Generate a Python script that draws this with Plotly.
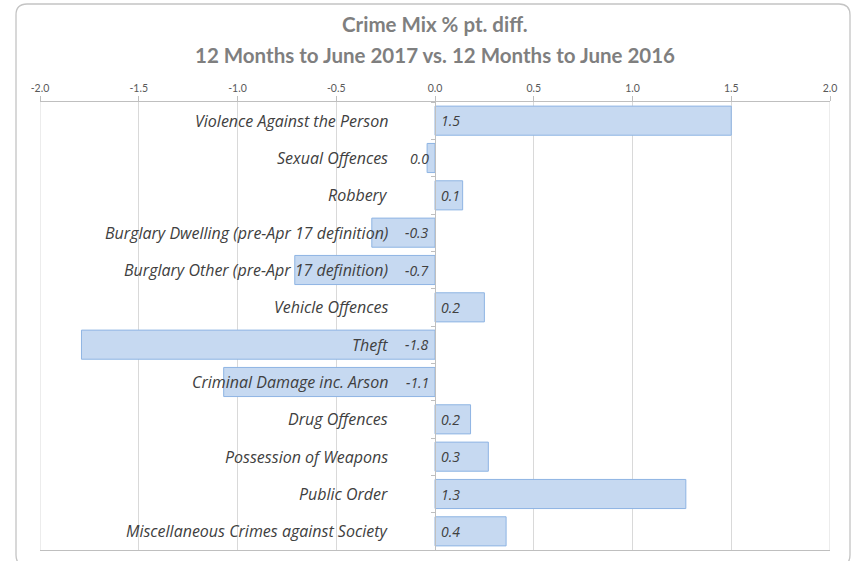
import plotly.graph_objects as go

categories = [
    "Violence Against the Person",
    "Sexual Offences",
    "Robbery",
    "Burglary Dwelling (pre-Apr 17 definition)",
    "Burglary Other (pre-Apr 17 definition)",
    "Vehicle Offences",
    "Theft",
    "Criminal Damage inc. Arson",
    "Drug Offences",
    "Possession of Weapons",
    "Public Order",
    "Miscellaneous Crimes against Society",
]
values = [1.50, -0.04, 0.14, -0.32, -0.71, 0.25, -1.79, -1.07, 0.18, 0.27, 1.27, 0.36]
x_ticks = [-2.0, -1.5, -1.0, -0.5, 0.0, 0.5, 1.0, 1.5, 2.0]
title_lines = ["Crime Mix % pt. diff.", "12 Months to June 2017 vs. 12 Months to June 2016"]

FONT = "Lato"
LABEL_FONT = "Open Sans"
TXT = "#404040"

W, H = 852, 561
L, R, T, B = 40, 22, 102, 11
pw, ph = W - L - R, H - T - B


def px_x(p):
    return (p - L) / pw


def px_y(p):
    return (H - B - p) / ph


fig = go.Figure()
fig.add_trace(go.Bar(
    y=categories, x=values, orientation="h",
    marker=dict(color="#C6D9F1", line=dict(color="#8EB4E3", width=1)),
    hoverinfo="x+y",
))

annotations = []
for c, v in zip(categories, values):
    label = f"{v:.1f}"
    if label == "-0.0":
        label = "0.0"
    annotations.append(dict(
        x=0, y=c, xref="x", yref="y",
        text=f"<i>{label}</i>",
        showarrow=False,
        xanchor="left" if v >= 0 else "right",
        xshift=4 if v >= 0 else -4,
        font=dict(family=LABEL_FONT, size=14, color=TXT),
    ))
    annotations.append(dict(
        x=0, y=c, xref="x", yref="y",
        text=f"<i>{c}</i>",
        showarrow=False, xanchor="right", xshift=-45,
        font=dict(family=LABEL_FONT, size=16, color=TXT),
    ))

for t, ypx in zip(title_lines, [24, 55]):
    annotations.append(dict(
        x=0.5, y=px_y(ypx), xref="paper", yref="paper", yanchor="middle",
        text=f"<b>{t}</b>", showarrow=False,
        font=dict(family=FONT, size=20.5, color="#7F7F7F"),
    ))

# rounded outer border
x0, x1, y0, y1, r = 16, 850, 4, 566, 11
path = (
    f"M {px_x(x0 + r)},{px_y(y0)} L {px_x(x1 - r)},{px_y(y0)} "
    f"Q {px_x(x1)},{px_y(y0)} {px_x(x1)},{px_y(y0 + r)} "
    f"L {px_x(x1)},{px_y(y1 - r)} Q {px_x(x1)},{px_y(y1)} {px_x(x1 - r)},{px_y(y1)} "
    f"L {px_x(x0 + r)},{px_y(y1)} Q {px_x(x0)},{px_y(y1)} {px_x(x0)},{px_y(y1 - r)} "
    f"L {px_x(x0)},{px_y(y0 + r)} Q {px_x(x0)},{px_y(y0)} {px_x(x0 + r)},{px_y(y0)} Z"
)

shapes = [dict(type="path", path=path, xref="paper", yref="paper",
               line=dict(color="#C4C4C4", width=1.3), layer="below")]
# plot-area side borders at the axis range ends
for xv in (x_ticks[0], x_ticks[-1]):
    shapes.append(dict(type="line", xref="x", yref="paper", x0=xv, x1=xv, y0=0, y1=1,
                       line=dict(color="#D9D9D9", width=1), layer="below"))

fig.update_layout(
    width=W, height=H,
    margin=dict(l=L, r=R, t=T, b=B),
    paper_bgcolor="white", plot_bgcolor="white",
    showlegend=False, bargap=0.22,
    annotations=annotations,
    shapes=shapes,
    xaxis=dict(
        side="top", range=[-2.0, 2.0], tickvals=x_ticks,
        ticktext=[f"{t:.1f}" for t in x_ticks],
        showgrid=True, gridcolor="#D9D9D9", gridwidth=1,
        zeroline=False,
        showline=True, linecolor="#BFBFBF", linewidth=1, mirror=True,
        ticks="outside", ticklen=5, tickcolor="#BFBFBF",
        tickfont=dict(family=FONT, size=10.5, color="#595959"),
        fixedrange=True,
    ),
    yaxis=dict(
        autorange="reversed", type="category",
        anchor="free", position=0.5,
        showticklabels=False, showgrid=False, zeroline=False,
        showline=True, linecolor="#BFBFBF", linewidth=1,
        ticks="outside", tickson="boundaries", ticklen=4, tickcolor="#BFBFBF",
        fixedrange=True,
    ),
)

fig.write_html(
    "out.html",
    config={"displayModeBar": False},
    post_script="document.body.style.margin='0px';document.body.style.overflow='hidden';",
)
